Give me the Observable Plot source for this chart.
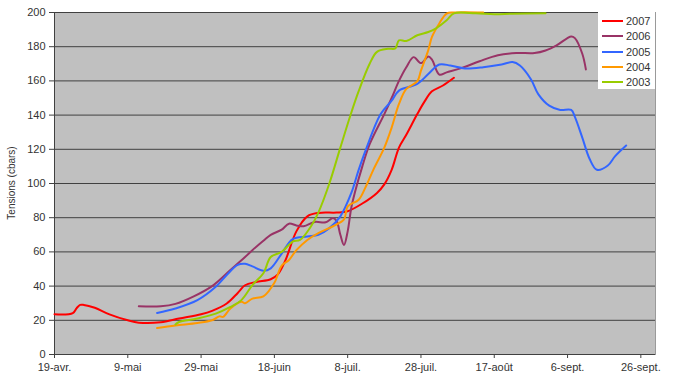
<!DOCTYPE html>
<html>
<head>
<meta charset="utf-8">
<script src="https://cdn.jsdelivr.net/npm/d3@7"></script>
<script src="https://cdn.jsdelivr.net/npm/@observablehq/plot@0.6"></script>
<style>
  body { margin: 0; background: #fff; }
  #wrap { position: relative; width: 680px; height: 380px; font-family: "Liberation Sans", Arial, sans-serif; }
  #legend { position: absolute; left: 598px; top: 12px; width: 57px; height: 77px; background: #fff; }
  .row { position: absolute; left: 0; height: 14px; width: 57px; }
  .sw { position: absolute; left: 4px; top: 6px; width: 21px; height: 2px; }
  .lb { position: absolute; left: 28px; top: 0px; font-size: 11px; line-height: 14px; color: #333; }
</style>
</head>
<body>
<div id="wrap"></div>
<script>
const years = ["2007", "2006", "2005", "2004", "2003"];
const colors = ["#FF0000", "#993366", "#3366FF", "#FF9900", "#99CC00"];

const dates2007 = ["04-19","04-24","04-25","04-26","04-27","04-30","05-04","05-09","05-12","05-18","05-23","05-29","06-01","06-05","06-08","06-10","06-13","06-17","06-19","06-21","06-24","06-27","06-30","07-05","07-08","07-12","07-16","07-18","07-20","07-22","07-24","07-27","07-29","07-31","08-03","08-06"];
const vals2007  = [23.5,24.2,27,29,29,27.3,23.5,20,18.6,18.8,21,23.5,25.5,29.8,36,40.5,42.4,44,47,55,72,80.8,82.8,83,83.8,88.3,94.5,99.5,108,121,128.5,140.6,148,153.9,157.3,161.8];

const dates2006 = ["05-12","05-18","05-22","05-27","06-01","06-06","06-10","06-12","06-15","06-17","06-20","06-22","06-24","06-26","06-29","07-02","07-04","07-05","07-06","07-07","07-08","07-09","07-10","07-12","07-14","07-18","07-20","07-22","07-24","07-26","07-28","07-30","07-31","08-02","08-04","08-08","08-13","08-18","08-23","08-28","08-31","09-03","09-07","09-08","09-10","09-11"];
const vals2006  = [28.2,28.2,29.6,34,40,49.4,57,61,66.5,70,73,76.5,75.5,75,77.5,77.3,79.8,78,70,64,72,86,95,110,123,140.6,150,160,168,173.9,170.4,174.3,172.5,163.7,165,167.5,171.5,175,176.3,176.3,177.8,180.8,186,185,176,166.7];

const dates2005 = ["05-17","05-22","05-28","06-02","06-05","06-08","06-10","06-12","06-15","06-17","06-20","06-23","06-27","06-30","07-03","07-06","07-09","07-11","07-13","07-17","07-20","07-22","07-27","07-30","08-02","08-05","08-09","08-14","08-19","08-22","08-24","08-27","08-29","09-01","09-04","09-07","09-08","09-10","09-12","09-14","09-17","09-19","09-22"];
const vals2005  = [24.3,26.9,31.8,39.6,46.5,52.4,53,51.5,49,50.4,59,67.5,69,70,73.9,80.8,94.5,108,120,140.6,148.4,154.3,158.2,164,169.6,169,167.3,168,169.6,171,169,161,152.3,145.5,143,143,139,127,114.5,108,110.5,116,122.2];

const dates2004 = ["05-17","05-22","05-28","06-01","06-03","06-04","06-06","06-09","06-10","06-12","06-15","06-18","06-20","06-22","06-24","06-27","06-30","07-04","07-07","07-08","07-11","07-13","07-15","07-18","07-20","07-22","07-24","07-27","07-28","07-30","07-31","08-02","08-04","08-06","08-14"];
const vals2004  = [15.5,17,18.4,20,22.3,22,26.9,30.8,30,32.7,34,42,52,55.3,61,67,71,75,79,86.6,90.5,98.4,108,121,132.7,146.5,155.3,159.8,166,178,185.7,193.6,199.4,200,200];

const dates2003 = ["05-22","05-23","05-28","06-02","06-06","06-09","06-12","06-15","06-17","06-20","06-23","06-25","06-28","06-30","07-03","07-06","07-09","07-11","07-14","07-16","07-19","07-21","07-22","07-24","07-27","07-30","08-01","08-04","08-06","08-12","08-17","08-22","08-31"];
const vals2003  = [17.6,19,21,23.9,27.8,31.8,40.6,47.5,57,60,66,67,75,83,100,121,141.5,154,170,177,178.8,179,183.7,183.3,186.7,188.6,190.6,195.5,199.5,199.5,199,199.3,199.5];

const tickDates  = ["04-19","05-09","05-29","06-18","07-08","07-28","08-17","09-06","09-26"];
const tickLabels = ["19-avr.","9-mai","29-mai","18-juin","8-juil.","28-juil.","17-août","6-sept.","26-sept."];
const xEnd = "09-30";
const yTicks = [0,20,40,60,80,100,120,140,160,180,200];

const toDate = s => { const [m, d] = s.split("-").map(Number); return new Date(Date.UTC(2007, m - 1, d)); };

const seriesDates = [dates2007, dates2006, dates2005, dates2004, dates2003];
const seriesVals  = [vals2007, vals2006, vals2005, vals2004, vals2003];
const rows = [];
years.forEach((y, i) => seriesDates[i].forEach((d, j) => rows.push({year: y, date: toDate(d), value: seriesVals[i][j]})));

const tickDateObjs = tickDates.map(toDate);
const labelFor = new Map(tickDateObjs.map((d, i) => [+d, tickLabels[i]]));

const chart = Plot.plot({
  width: 680,
  height: 380,
  marginLeft: 54,
  marginRight: 25,
  marginTop: 12,
  marginBottom: 26,
  style: {fontFamily: "'Liberation Sans', Arial, sans-serif", fontSize: "11px", color: "#333", background: "#fff"},
  x: {type: "utc", domain: [toDate(tickDates[0]), toDate(xEnd)]},
  y: {domain: [0, 200]},
  color: {domain: years, range: colors},
  marks: [
    Plot.frame({fill: "#c0c0c0", stroke: "#9a9a9a"}),
    Plot.gridY(yTicks, {stroke: "#404040", strokeOpacity: 1, strokeWidth: 1}),
    Plot.ruleX([toDate(tickDates[0])], {stroke: "#404040", strokeWidth: 1}),
    Plot.ruleY([0], {stroke: "#404040", strokeWidth: 1}),
    Plot.axisY(yTicks, {tickSize: 5, tickPadding: 4, stroke: "#404040", fill: "#333", label: null, fontSize: 11}),
    Plot.axisX(tickDateObjs, {tickSize: 4, tickPadding: 5, stroke: "#404040", fill: "#333", label: null, fontSize: 11, tickFormat: d => labelFor.get(+d)}),
    Plot.line(rows, {x: "date", y: "value", z: "year", stroke: "year", strokeWidth: 2, curve: "catmull-rom"})
  ]
});

const wrap = document.getElementById("wrap");
wrap.appendChild(chart);

// Y axis title as real text
const svg = d3.select(chart);
svg.append("text")
  .attr("transform", "translate(15,183) rotate(-90)")
  .attr("text-anchor", "middle")
  .attr("fill", "#333")
  .style("font-size", "10px")
  .style("font-family", "'Liberation Sans', Arial, sans-serif")
  .text("Tensions (cbars)");

const legend = document.createElement("div");
legend.id = "legend";
years.forEach((y, i) => {
  const r = document.createElement("div");
  r.className = "row";
  r.style.top = (2 + i * 15.3) + "px";
  const sw = document.createElement("div");
  sw.className = "sw";
  sw.style.background = colors[i];
  const lb = document.createElement("div");
  lb.className = "lb";
  lb.textContent = y;
  r.appendChild(sw); r.appendChild(lb);
  legend.appendChild(r);
});
wrap.appendChild(legend);
</script>
</body>
</html>
